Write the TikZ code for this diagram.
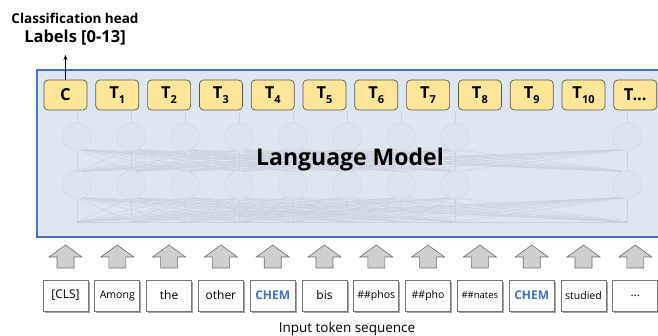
\documentclass[tikz,border=0pt]{standalone}
\usepackage{fontspec}
\setmainfont{Open Sans}
\usetikzlibrary{shadows,arrows.meta}
\definecolor{bgblue}{RGB}{222,230,242}
\definecolor{borderblue}{RGB}{68,114,196}
\definecolor{netfill}{RGB}{220,228,241}
\definecolor{netdraw}{RGB}{211,219,231}
\definecolor{netline}{RGB}{203,210,222}
\definecolor{tokfill}{RGB}{255,230,153}
\definecolor{tokdraw}{RGB}{89,89,89}
\definecolor{arrfill}{RGB}{208,206,206}
\definecolor{arrdraw}{RGB}{110,110,110}
\definecolor{inborder}{RGB}{120,120,120}
\definecolor{chemblue}{RGB}{68,114,196}
\newcommand{\tsub}[1]{T\raisebox{-0.28em}{\fontsize{11}{11}\selectfont #1}}
\begin{document}
\begin{tikzpicture}[x=1pt,y=-1pt,
  topbox/.style={draw=tokdraw, fill=tokfill, rounded corners=4pt, minimum width=43pt, minimum height=30pt, inner sep=0pt, line width=0.7pt, font=\fontsize{16.5}{16.5}\selectfont\bfseries},
  inbox/.style={draw=inborder, fill=white, minimum width=45pt, minimum height=31pt, inner sep=0pt, line width=0.7pt, font=\fontsize{12}{13}\selectfont, drop shadow={shadow xshift=1.6pt, shadow yshift=-1.6pt, opacity=0.35, fill=black}},
  netnode/.style={circle, draw=netdraw, fill=netfill, minimum size=28pt, inner sep=0pt, line width=0.6pt},
  netedge/.style={draw=netline, line width=0.45pt},
  netarrow/.style={draw=netline, line width=0.5pt, -{Stealth[length=2.5pt,width=2pt]}},
  blockarrow/.style={fill=arrfill, draw=arrdraw, line width=0.6pt, line join=miter}
]
\useasboundingbox (0,0) rectangle (658,336);

% main model rectangle
\path[fill=bgblue, draw=borderblue, line width=1.3pt] (37,70) rectangle (680,237);

% network background
\foreach \c [count=\i] in {77,131,185,239,293,347,401,455,627} {
  \coordinate (ti\i) at (\c,222);
  \coordinate (to\i) at (\c,111);
  \node[netnode] (ta\i) at (\c,137) {};
  \node[netnode] (tb\i) at (\c,185) {};
}
\foreach \i in {1,...,9} {
  \foreach \j in {1,...,9} {
    \path[netedge] ([yshift=-1pt]tb\i.north) -- ([yshift=2pt]ta\j.south);
    \path[netedge] (ti\i) -- ([yshift=2pt]tb\j.south);
  }
  \path[netarrow] (tb\i.north) -- (ta\i.south);
  \path[netarrow] (ti\i) -- (tb\i.south);
  \path[netarrow] (ta\i.north) -- (to\i);
}
\path[netedge] (ti1) -- (ti9);
% circles again, over the lines
\foreach \c [count=\i] in {77,131,185,239,293,347,401,455,627} {
  \node[netnode] at (\c,137) {};
  \node[netnode] at (\c,185) {};
}
\node[text=netdraw, font=\fontsize{8}{8}\selectfont] (dotsA) at (541,146) {...};
\node[text=netdraw, font=\fontsize{8}{8}\selectfont] (dotsB) at (541,195) {...};

\node[font=\fontsize{23}{25}\selectfont\bfseries] (lm) at (350,160) {Language Model};

% output tokens
\foreach \k/\lab in {0/C,1/{\tsub{1}},2/{\tsub{2}},3/{\tsub{3}},4/{\tsub{4}},5/{\tsub{5}},6/{\tsub{6}},7/{\tsub{7}},8/{\tsub{8}},9/{\tsub{9}},10/{\tsub{10}},11/{T...}} {
  \node[topbox] (top\k) at ({65.5+51.8*\k},95) {\lab};
}

% input tokens
\foreach \k/\lab in {0/{[CLS]},1/{\fontsize{10.5}{11}\selectfont Among},2/{the},3/{other},4/{\textcolor{chemblue}{\bfseries CHEM}},5/{bis},6/{\fontsize{10.5}{11}\selectfont \#\#phos},7/{\fontsize{10.5}{11}\selectfont \#\#pho},8/{\fontsize{9.5}{10}\selectfont \#\#nates},9/{\textcolor{chemblue}{\bfseries CHEM}},10/{\fontsize{10.5}{11}\selectfont studied},11/{...}} {
  \node[inbox] (in\k) at ({65.5+51.8*\k},295.5) {\lab};
}

% block arrows
\foreach \k in {0,...,11} {
  \path[blockarrow] ({65.5+51.8*\k-8.5},268) -- ++(0,-11) -- ++(-8,0) -- ({65.5+51.8*\k},245) -- ({65.5+51.8*\k+16.5},257) -- ++(-8,0) -- ++(0,11) -- cycle;
}

% classification head
\node[font=\fontsize{13.5}{14}\selectfont\bfseries] (cls) at (75,18) {Classification head};
\node[font=\fontsize{16.5}{17}\selectfont\bfseries] (labels) at (75,38) {Labels [0-13]};
\coordinate (clsend) at (65.5,55);
\draw[line width=0.7pt, -{Stealth[length=5pt,width=4pt]}] (top0.north) -- (clsend);

% caption
\node[anchor=base, font=\fontsize{13.5}{14}\selectfont] (caption) at (347,332) {Input token sequence};
\end{tikzpicture}
\end{document}
